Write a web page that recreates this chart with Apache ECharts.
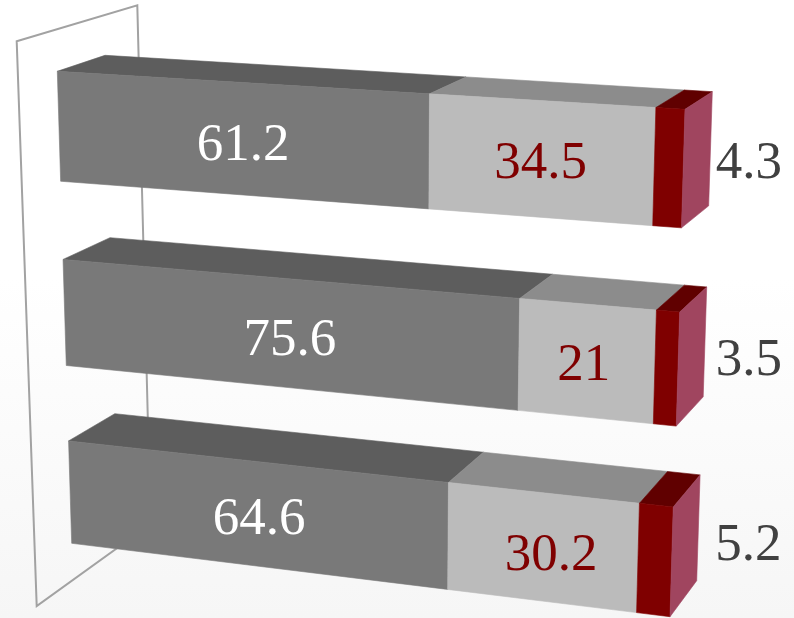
<!DOCTYPE html>
<html>
<head>
<meta charset="utf-8">
<style>html,body{margin:0;padding:0;background:#fff}#chart{width:794px;height:618px}</style>
<script src="https://cdn.jsdelivr.net/npm/echarts@6/dist/echarts.min.js"></script>
</head>
<body>
<div id="chart"></div>
<script>
// Chart values, one row per bar, top to bottom
var categories = ['Row 1', 'Row 2', 'Row 3'];
var firstShare = [61.2, 75.6, 64.6];
var secondShare = [34.5, 21, 30.2];
var thirdShare = [4.3, 3.5, 5.2];

// Solid-box look: the flat grid is projected onto two planes of a perspective box
var BAR_FRACTION = 0.58;
var FRONT_PLANE = [[57.3, 71.3], [685, 109.3], [670, 616.7], [71.7, 543.3]];
var BACK_PLANE = [[105, 55.3], [712.3, 91.7], [696.7, 580.7], [117.5, 513]];
var WALL = [[16.7, 41.3], [137.3, 5.3], [150.5, 524], [36.7, 606]];

var FACE_COLORS = [
  { front: '#797979', top: '#5d5d5d' },
  { front: '#bbbbbb', top: '#8c8c8c' },
  { front: '#7f0000', top: '#600000', side: '#a0455f' }
];
var LABEL_COLORS = ['#ffffff', '#7f0000', '#404040'];
var LABEL_FONT = '53px "Liberation Serif", serif';
// Per-label fine placement relative to its anchor on the box
var LABEL_NUDGE = [
  [[-1, 7], [-2, 8], [0, 6]],
  [[-1, 5], [-3, 5], [8, 9]],
  [[38.5, 15], [44, 19], [50, 18]]
];

function quadMap(q) {
  var x0 = q[0][0], y0 = q[0][1], x1 = q[1][0], y1 = q[1][1];
  var x2 = q[2][0], y2 = q[2][1], x3 = q[3][0], y3 = q[3][1];
  var dx1 = x1 - x2, dx2 = x3 - x2, sx = x0 - x1 + x2 - x3;
  var dy1 = y1 - y2, dy2 = y3 - y2, sy = y0 - y1 + y2 - y3;
  var den = dx1 * dy2 - dx2 * dy1;
  var g = (sx * dy2 - dx2 * sy) / den, h = (dx1 * sy - sx * dy1) / den;
  var a = x1 - x0 + g * x1, b = x3 - x0 + h * x3;
  var d = y1 - y0 + g * y1, e = y3 - y0 + h * y3;
  return function (u, v) {
    var w = g * u + h * v + 1;
    return [(a * u + b * v + x0) / w, (d * u + e * v + y0) / w];
  };
}
var toFront = quadMap(FRONT_PLANE);
var toBack = quadMap(BACK_PLANE);

var stacks = [firstShare, secondShare, thirdShare];

function face(points, color) {
  return {
    type: 'polygon',
    shape: { points: points },
    style: { fill: color, stroke: color, lineWidth: 0.6 }
  };
}

function makeRenderer(stackIndex) {
  return function (params, api) {
    var row = api.value(1);
    var value = api.value(0);
    var start = 0;
    for (var i = 0; i < stackIndex; i++) start += stacks[i][row];

    // Flat layout from the axes, then normalised across all bars
    var band = api.size([0, 1])[1];
    var half = band * BAR_FRACTION / 2;
    var origin = api.coord([0, 0]);
    var full = api.coord([100, categories.length - 1]);
    var yMin = origin[1] - half, yMax = full[1] + half;
    var a = api.coord([start, row]);
    var b = api.coord([start + value, row]);
    var u0 = (a[0] - origin[0]) / (full[0] - origin[0]);
    var u1 = (b[0] - origin[0]) / (full[0] - origin[0]);
    var vTop = (a[1] - half - yMin) / (yMax - yMin);
    var vBot = (a[1] + half - yMin) / (yMax - yMin);

    var ftl = toFront(u0, vTop), ftr = toFront(u1, vTop);
    var fbl = toFront(u0, vBot), fbr = toFront(u1, vBot);
    var btl = toBack(u0, vTop), btr = toBack(u1, vTop), bbr = toBack(u1, vBot);
    var colors = FACE_COLORS[stackIndex];

    var children = [
      face([btl, btr, ftr, ftl], colors.top),
      face([ftl, ftr, fbr, fbl], colors.front)
    ];
    if (colors.side) children.push(face([ftr, btr, bbr, fbr], colors.side));

    // Inner segments label their front face, the last one labels beside the box end
    var nudge = LABEL_NUDGE[stackIndex][row];
    var anchor = colors.side
      ? [(btr[0] + bbr[0]) / 2, (btr[1] + bbr[1]) / 2]
      : [(ftl[0] + ftr[0] + fbl[0] + fbr[0]) / 4, (ftl[1] + ftr[1] + fbl[1] + fbr[1]) / 4];
    children.push({
      type: 'text',
      style: {
        text: String(value),
        x: anchor[0] + nudge[0],
        y: anchor[1] + nudge[1],
        fill: LABEL_COLORS[stackIndex],
        font: LABEL_FONT,
        align: 'center',
        verticalAlign: 'middle'
      }
    });
    return { type: 'group', children: children };
  };
}

var chart = echarts.init(document.getElementById('chart'), null, { renderer: 'canvas' });
chart.setOption({
  animation: false,
  backgroundColor: {
    type: 'linear', x: 0, y: 0, x2: 0, y2: 1,
    colorStops: [
      { offset: 0, color: '#ffffff' },
      { offset: 0.45, color: '#ffffff' },
      { offset: 1, color: '#f6f6f6' }
    ]
  },
  grid: { left: 60, right: 100, top: 40, bottom: 40 },
  xAxis: { type: 'value', min: 0, max: 100, show: false },
  yAxis: { type: 'category', data: categories, inverse: true, show: false },
  graphic: [{
    type: 'polygon',
    silent: true,
    shape: { points: WALL },
    style: { fill: 'none', stroke: '#a2a2a2', lineWidth: 2 }
  }],
  series: stacks.map(function (values, s) {
    return {
      type: 'custom',
      renderItem: makeRenderer(s),
      encode: { x: 0, y: 1 },
      data: values.map(function (v, row) { return [v, row]; }),
      clip: false,
      silent: true
    };
  })
});
</script>
</body>
</html>
